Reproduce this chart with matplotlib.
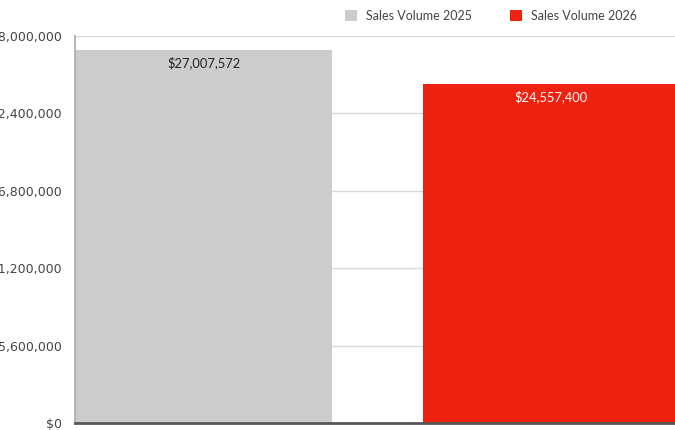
import matplotlib.pyplot as plt
from matplotlib.patches import Patch
from matplotlib.ticker import FuncFormatter, MultipleLocator

plt.rcParams['font.family'] = ['Lato', 'DejaVu Sans']

series = ["Sales Volume 2025", "Sales Volume 2026"]
values = [27007572, 24557400]
colors = ["#cccccc", "#ee220f"]
label_colors = ["#222222", "#ffffff"]
y_max = 28000000
y_step = 5600000

fig = plt.figure(figsize=(6.75, 4.3), dpi=100)
# axes run slightly past both edges of the canvas, like the original crop
ax = fig.add_axes([75 / 675, 7 / 430, 605 / 675, 387 / 430])

pos = list(range(len(values)))
bars = ax.bar(pos, values, width=0.74, color=colors, zorder=2)
for b, v, c in zip(bars, values, label_colors):
    ax.annotate("${:,.0f}".format(v), (b.get_x() + b.get_width() / 2, v),
                xytext=(0, -4.5), textcoords="offset points",
                ha="center", va="top", fontsize=9.3, color=c, zorder=3)

ax.set_xlim(-0.37, 1.37)
ax.set_ylim(0, y_max)
ax.yaxis.set_major_locator(MultipleLocator(y_step))
ax.yaxis.set_major_formatter(FuncFormatter(lambda v, p: "${:,.0f}".format(v)))
ax.set_xticks([])
ax.tick_params(axis="y", length=0, pad=9.5, labelsize=9, labelcolor="#444444")
for t in ax.get_yticklabels():
    t.set_family("DejaVu Sans")
ax.grid(axis="y", color="#d9d9d9", linewidth=1, zorder=0)

for s in ["top", "right"]:
    ax.spines[s].set_visible(False)
ax.spines["left"].set_color("#aaaaaa")
ax.spines["left"].set_linewidth(1.2)
ax.spines["bottom"].set_color("#555555")
ax.spines["bottom"].set_linewidth(2)

handles = [Patch(facecolor=c, edgecolor="none") for c in colors]
fig.legend(handles, series, loc="center left", bbox_to_anchor=(345 / 675, 1 - 16 / 430),
           ncol=2, frameon=False, fontsize=9, labelcolor="#444444",
           handlelength=0.95, handleheight=0.95, handletextpad=0.75,
           columnspacing=3.0, borderpad=0, borderaxespad=0)

fig.savefig("out.png", dpi=100)
